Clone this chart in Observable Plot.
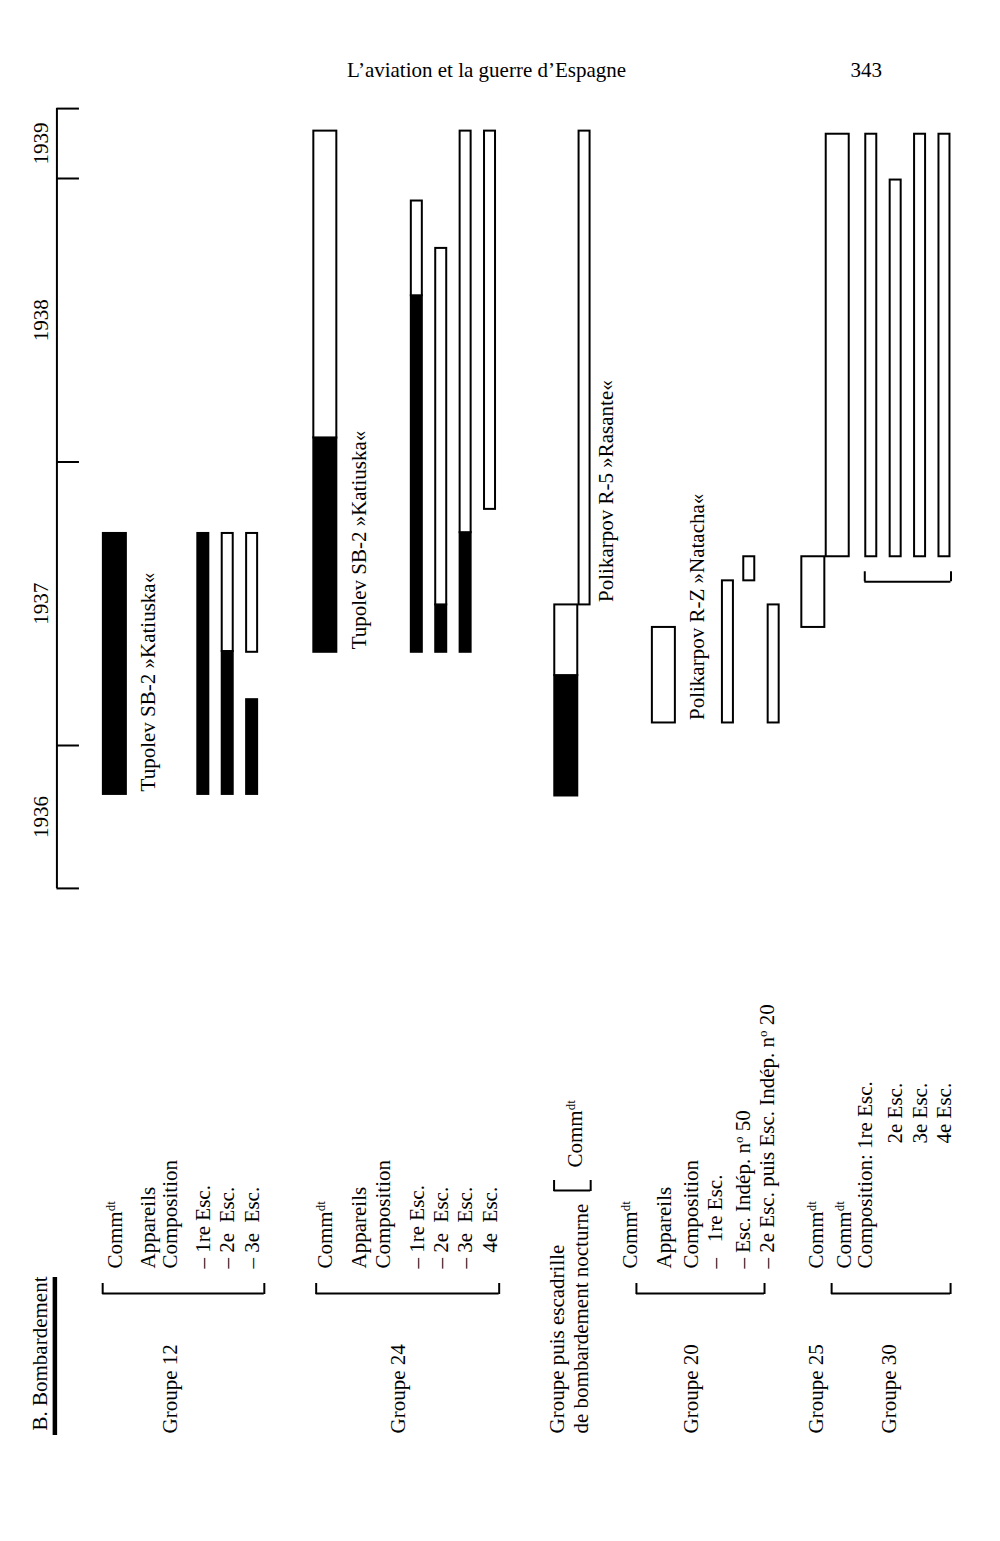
<!DOCTYPE html>
<html><head><meta charset="utf-8">
<script src="https://cdn.jsdelivr.net/npm/d3@7"></script>
<script src="https://cdn.jsdelivr.net/npm/@observablehq/plot@0.6"></script>
<style>
body{margin:0;background:#fff;}
#page{width:1000px;}
#header{position:relative;height:95px;font-family:"Liberation Serif",serif;font-size:21px;color:#000;}
#header span{position:absolute;top:60px;line-height:1;white-space:nowrap;}
svg{display:block;}
</style></head>
<body>
<div id="page">
  <div id="header"><span style="left:347px">L’aviation et la guerre d’Espagne</span><span style="right:118px">343</span></div>
  <div id="chart"></div>
  <div id="table"></div>
</div>
<script>
// ---------------- DATA ----------------
// time axis: segment bounds and year labels
const axisBounds = ["1936-07-01","1937-01-01","1938-01-01","1939-01-01","1939-04-01"];
const yearLabels = ["1936","1937","1938","1939"];

// bar segments: [row, kind, start, end, shade]  (noir = filled, blanc = open)
const groupe12 = [
  ["g12cmd","cmd","1936-10-30","1937-10-01","noir"],
  ["g12e1","esc","1936-10-30","1937-10-01","noir"],
  ["g12e2","esc","1936-10-30","1937-05-02","noir"],
  ["g12e2","esc","1937-05-02","1937-10-01","blanc"],
  ["g12e3","esc","1936-10-30","1937-03-01","noir"],
  ["g12e3","esc","1937-05-01","1937-10-01","blanc"]
];
const groupe24 = [
  ["g24cmd","cmd","1937-05-01","1938-02-01","noir"],
  ["g24cmd","cmd","1938-02-01","1939-03-03","blanc"],
  ["g24e1","esc","1937-05-01","1938-08-03","noir"],
  ["g24e1","esc","1938-08-03","1938-12-03","blanc"],
  ["g24e2","esc","1937-05-01","1937-07-01","noir"],
  ["g24e2","esc","1937-07-01","1938-10-03","blanc"],
  ["g24e3","esc","1937-05-01","1937-10-02","noir"],
  ["g24e3","esc","1937-10-02","1939-03-03","blanc"],
  ["g24e4","esc","1937-11-01","1939-03-03","blanc"]
];
const nocturne = [
  ["nLow","cmd","1936-10-28","1937-04-01","noir"],
  ["nLow","cmd","1937-04-01","1937-07-01","blanc"],
  ["nUp","esc","1937-07-01","1939-03-03","blanc"]
];
const groupe20 = [
  ["g20app","cmd","1937-01-30","1937-06-02","blanc"],
  ["g20e1","esc","1937-01-30","1937-08-01","blanc"],
  ["g20e50","esc","1937-08-01","1937-09-01","blanc"],
  ["g20e2","esc","1937-01-30","1937-07-01","blanc"]
];
const groupe25 = [
  ["g25bar","cmd","1937-06-02","1937-09-01","blanc"]
];
const groupe30 = [
  ["g30bar","cmd","1937-09-01","1939-02-27","blanc"],
  ["g30e1","esc","1937-09-01","1939-02-27","blanc"],
  ["g30e2","esc","1937-09-01","1938-12-30","blanc"],
  ["g30e3","esc","1937-09-01","1939-02-27","blanc"],
  ["g30e4","esc","1937-09-01","1939-02-27","blanc"]
];

// aircraft names written along the bars: [row, date, text]
const aircraft = [
  ["g12app","1936-10-30","Tupolev SB-2 »Katiuska«"],
  ["g24app","1937-05-01","Tupolev SB-2 »Katiuska«"],
  ["nText","1937-07-01","Polikarpov R-5 »Rasante«"],
  ["g20txt","1937-01-30","Polikarpov R-Z »Natacha«"]
];

// table labels (^ marks a superscript)
const tableLines = [
  ["g12cmd","Comm^dt"],["g12app","Appareils"],["g12comp","Composition"],
  ["g12e1","– 1re Esc."],["g12e2","– 2e\u2002Esc."],["g12e3","– 3e\u2002Esc."],
  ["g24cmd","Comm^dt"],["g24app","Appareils"],["g24comp","Composition"],
  ["g24e1","– 1re Esc."],["g24e2","– 2e\u2002Esc."],["g24e3","– 3e\u2002Esc."],["g24e4","\u2002\u20054e\u2002Esc."],
  ["g20L1","Comm^dt"],["g20app","Appareils"],["g20comp","Composition"],
  ["g20L4","–\u2002 1re Esc."],["g20L5","– Esc. Indép. n^o 50"],["g20L6","– 2e Esc. puis Esc. Indép. n^o 20"],
  ["g25","Comm^dt"],["g30cmd","Comm^dt"],["g30comp","Composition: 1re Esc."]
];
const compositionSuite = [["g30e2","2e Esc."],["g30e3","3e Esc."],["g30e4","4e Esc."]];
const nightCommand = [["nCmd","Comm^dt"]];
const groupLabels = [
  ["g12comp","Groupe 12"],["g24grp","Groupe 24"],
  ["nLbl1","Groupe puis escadrille"],["nLbl2","de bombardement nocturne"],
  ["g20comp","Groupe 20"],["g25","Groupe 25"],["g30grp","Groupe 30"]
];
const sectionTitle = "B. Bombardement";
const tableBrackets = [["b12L","b12R"],["b24L","b24R"],["b20L","b20R"],["b30L","b30R"]];
const nightBracket = [["bNL","bNR"]];

// ---------------- SCALE CONFIG ----------------
// x: band scale of table columns on a fine grid (unnamed slots are blank)
const U = 3.05, N_SLOTS = 312;
const xSlots = [
  ["lead",13],["bombRule",17],["axis",18],
  ["b12L",33],["g12cmd",37],["g12app",48],["g12comp",55],["g12e1",66],["g12e2",74],["g12e3",82],["b12R",86],
  ["b24L",103],["g24cmd",106],["g24app",117],["g24comp",125],["g24grp",130],["g24e1",136],["g24e2",144],["g24e3",152],["g24e4",160],["b24R",163],
  ["bNL",181],["nLbl1",182],["nLow",185],["nCmd",188],["nLbl2",190],["nUp",191],["bNR",193],["nText",198],
  ["g20L1",206],["b20L",208],["g20app",217],["g20comp",226],["g20txt",228],["g20L4",234],["g20e1",238],["g20L5",243],["g20e50",245],["b20R",250],["g20L6",251],["g20e2",253],
  ["g25bar",266],["g25",267],["b30L",272],["g30bar",274],["g30cmd",276],["g30comp",283],["g30e1",285],["g30grp",291],["g30e2",293],["g30e3",301],["g30e4",309],["b30R",311]
];
const xDomain = Array.from({length: N_SLOTS}, (_, i) => "·" + i);
for (const [k, i] of xSlots) xDomain[i] = k;
const xScale = () => ({type: "band", domain: xDomain, range: [0, N_SLOTS * U], padding: 0, round: false, axis: null});

const D = s => new Date(s + "T00:00:00Z");
const mid = (a, b) => new Date((D(a).getTime() + D(b).getTime()) / 2);
const segs = [...groupe12, ...groupe24, ...nocturne, ...groupe20, ...groupe25, ...groupe30]
  .map(([col, kind, start, end, shade]) => ({col, kind, start: D(start), end: D(end), shade}));
const planes = aircraft.map(([col, date, label]) => ({col, date: D(date), label}));
const rows = a => a.map(([col, text]) => ({col, text}));

const FONT = "'Liberation Serif', 'Times New Roman', serif";
const style = {fontFamily: FONT, fontSize: "21px", background: "white", color: "black"};
const CMD_W = 23, ESC_W = 11;
const shadeFill = d => d.shade === "noir" ? "black" : "white";

// ---------------- CHART (time axis + bars) ----------------
const g30esc = segs.filter(d => /^g30e/.test(d.col));
const g30start = d3.min(g30esc, d => d.start);
const chart = Plot.plot({
  width: 1000, height: 815, margin: 0, style,
  x: xScale(),
  y: {type: "utc", domain: [D("1937-01-01"), D("1939-01-01")], range: [650, 83], axis: null},
  marks: [
    Plot.ruleX(["axis"], {x: d => d, y1: () => D(axisBounds[0]), y2: () => D(axisBounds[axisBounds.length - 1]), stroke: "black", strokeWidth: 2}),
    Plot.ruleY(axisBounds.map(D), {y: d => d, x1: () => "axis", x2: () => "axis", insetLeft: U / 2, insetRight: -21, stroke: "black", strokeWidth: 2}),
    Plot.text(yearLabels, {x: () => "lead", y: (d, i) => mid(axisBounds[i], axisBounds[i + 1]), text: d => d, rotate: -90, lineAnchor: "middle", fontSize: 21, fontFamily: FONT}),
    Plot.barY(segs.filter(d => d.kind === "cmd"), {x: "col", y1: "start", y2: "end", fill: shadeFill, stroke: "black", strokeWidth: 2, insetLeft: -(CMD_W - U) / 2, insetRight: -(CMD_W - U) / 2}),
    Plot.barY(segs.filter(d => d.kind === "esc"), {x: "col", y1: "start", y2: "end", fill: shadeFill, stroke: "black", strokeWidth: 2, insetLeft: -(ESC_W - U) / 2, insetRight: -(ESC_W - U) / 2}),
    Plot.text(planes, {x: "col", y: "date", text: "label", rotate: -90, textAnchor: "start", lineAnchor: "middle", dy: -3, fontSize: 21, fontFamily: FONT}),
    // bracket under the squadrons of Groupe 30
    Plot.ruleY([g30start], {y: d => d, x1: () => "g30e1", x2: () => "g30e4", insetLeft: -(ESC_W - U) / 2 - 1, insetRight: -(ESC_W - U) / 2 - 1, dy: 25, stroke: "black", strokeWidth: 2}),
    Plot.ruleX([g30start], {x: () => "g30e1", y1: d => d, y2: d => d, insetTop: -5, insetBottom: -5, dy: 20, dx: -(ESC_W / 2 + 1), stroke: "black", strokeWidth: 2}),
    Plot.ruleX([g30start], {x: () => "g30e4", y1: d => d, y2: d => d, insetTop: -5, insetBottom: -5, dy: 20, dx: (ESC_W / 2 + 1), stroke: "black", strokeWidth: 2})
  ]
});
document.getElementById("chart").append(chart);

// ---------------- TABLE OF UNITS (labels below) ----------------
const HB = 631;
const LINE_Y = 358, SUITE_Y = 233, NIGHT_Y = 257, GROUP_Y = 523;
const BR_Y = 383, BR_TICK = 10, NBR_Y = 280;
const txt = (data, dy) => Plot.text(rows(data), {x: "col", text: "text", frameAnchor: "top", lineAnchor: "middle", dy, rotate: -90, textAnchor: "start", fontSize: 21, fontFamily: FONT});
const table = Plot.plot({
  width: 1000, height: HB, margin: 0, style,
  x: xScale(),
  marks: [
    txt(tableLines, LINE_Y),
    txt(compositionSuite, SUITE_Y),
    txt(nightCommand, NIGHT_Y),
    txt(groupLabels, GROUP_Y),
    Plot.text([sectionTitle], {x: () => "lead", text: d => d, frameAnchor: "top", lineAnchor: "middle", dy: GROUP_Y - 3, dx: -1, rotate: -90, textAnchor: "start", fontSize: 21, fontFamily: FONT}),
    Plot.ruleX(["bombRule"], {x: d => d, dx: 1, insetTop: 367, insetBottom: HB - 525, stroke: "black", strokeWidth: 4.5}),
    // brackets ⌊ ⌋ grouping the lines of each unit
    Plot.ruleY(tableBrackets, {y: null, x1: d => d[0], x2: d => d[1], insetLeft: U / 2, insetRight: U / 2, dy: BR_Y - HB / 2, stroke: "black", strokeWidth: 2}),
    Plot.ruleX(tableBrackets.flat(), {x: d => d, insetTop: BR_Y - BR_TICK, insetBottom: HB - BR_Y - 1, stroke: "black", strokeWidth: 2}),
    Plot.ruleY(nightBracket, {y: null, x1: d => d[0], x2: d => d[1], insetLeft: U / 2, insetRight: U / 2, dy: NBR_Y - HB / 2, stroke: "black", strokeWidth: 2}),
    Plot.ruleX(nightBracket.flat(), {x: d => d, insetTop: NBR_Y - BR_TICK, insetBottom: HB - NBR_Y - 1, stroke: "black", strokeWidth: 2})
  ]
});
// superscripts (Comm^dt, n^o)
table.querySelectorAll("text").forEach(t => {
  const s = t.textContent;
  if (!s.includes("^")) return;
  t.textContent = "";
  s.split(/\^(\w+)/).forEach((p, i) => {
    if (!p) return;
    const ts = document.createElementNS("http://www.w3.org/2000/svg", "tspan");
    ts.textContent = p;
    if (i % 2) { ts.setAttribute("baseline-shift", "super"); ts.setAttribute("font-size", "13px"); }
    t.appendChild(ts);
  });
});
document.getElementById("table").append(table);
</script>
</body></html>
